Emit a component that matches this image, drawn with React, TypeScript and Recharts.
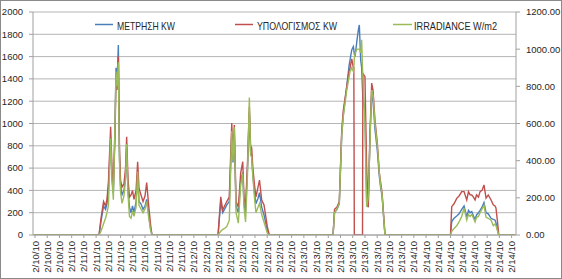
import React from 'react';
import { LineChart, Line, XAxis, YAxis, CartesianGrid, Legend } from 'recharts';

// Category labels shown under the axis (one every 2.5 h)
const tickLabels = [
  '2/10/10', '2/10/10', '2/10/10',
  '2/11/10', '2/11/10', '2/11/10', '2/11/10', '2/11/10', '2/11/10', '2/11/10', '2/11/10', '2/11/10', '2/11/10',
  '2/12/10', '2/12/10', '2/12/10', '2/12/10', '2/12/10', '2/12/10', '2/12/10', '2/12/10', '2/12/10',
  '2/13/10', '2/13/10', '2/13/10', '2/13/10', '2/13/10', '2/13/10', '2/13/10', '2/13/10', '2/13/10',
  '2/14/10', '2/14/10', '2/14/10', '2/14/10', '2/14/10', '2/14/10', '2/14/10', '2/14/10', '2/14/10',
];

const seriesKeys = ['meas', 'calc', 'irr'];
const seriesNames = ['ΜΕΤΡΗΣΗ KW', 'ΥΠΟΛΟΓΙΣΜΟΣ KW', 'IRRADIANCE W/m2'];

// time position, in label slots
const slot = [
  -0.08,
  5.24, 5.40, 5.61, 5.77, 5.89, 6.01, 6.19, 6.30, 6.41, 6.55, 6.63, 6.71, 6.82, 6.91, 7.00, 7.12, 7.28, 7.41, 7.50,
  7.61, 7.73, 7.86, 7.98, 8.10, 8.27, 8.40, 8.51, 8.67, 8.84, 9.00, 9.14, 9.29, 9.45, 9.57,
  14.98, 15.20, 15.36, 15.51, 15.69, 15.90, 16.10, 16.20, 16.31, 16.45, 16.64, 16.83, 17.00, 17.10, 17.23, 17.39,
  17.54, 17.64, 17.73, 17.82, 17.96, 18.08, 18.25, 18.37, 18.55, 18.74, 19.01, 19.17,
  24.39, 24.51, 24.71, 24.90, 25.10, 25.23, 25.51, 25.70, 25.78, 25.92, 26.05, 26.09, 26.13, 26.19, 26.35, 26.46,
  26.54, 26.65, 26.73, 26.80, 26.83, 27.00, 27.14, 27.27, 27.41, 27.55, 27.66, 27.82, 28.01, 28.18, 28.29, 28.40,
  28.50, 28.64,
  34.00, 34.10, 34.29, 34.51, 34.70, 34.92, 35.11, 35.33, 35.47, 35.60, 35.74, 35.88, 36.01, 36.13, 36.29, 36.42,
  36.58, 36.74, 36.91, 37.09, 37.32, 37.50, 37.64, 37.72, 37.86, 37.95,
  39.28,
];

// ΜΕΤΡΗΣΗ KW (measured)
const measKW = [
  0,
  0, 120, 260, 230, 280, 420, 870, 500, 380, 1000, 1500, 1350, 1704, 700, 440, 360, 400, 520, 780,
  400, 250, 200, 260, 200, 300, 560, 300, 280, 230, 260, 320, 200, 60, 0,
  0, 300, 200, 230, 270, 300, 900, 650, 900, 260, 200, 480, 560, 280, 200, 600,
  1100, 750, 700, 550, 380, 280, 330, 380, 250, 180, 40, 0,
  0, 200, 230, 280, 900, 1080, 1330, 1520, 1570, 1660, 1690, 1660, 1620, 1600, 1750, 1839,
  1884, 1570, 1500, 1300, 1250, 1100, 300, 250, 900, 1250, 1200, 950, 760, 520, 420, 350,
  200, 0,
  0, 120, 150, 170, 190, 230, 260, 160, 220, 200, 210, 170, 140, 180, 200, 220,
  250, 290, 200, 190, 150, 140, 135, 110, 40, 0,
  0,
];

// ΥΠΟΛΟΓΙΣΜΟΣ KW (calculated)
const calcKW = [
  0,
  0, 150, 300, 260, 320, 478, 971, 600, 430, 900, 1450, 1300, 1600, 800, 490, 430, 460, 600, 880,
  500, 340, 360, 400, 320, 400, 657, 420, 360, 300, 350, 470, 280, 100, 0,
  0, 343, 224, 260, 300, 340, 1005, 700, 987, 300, 250, 556, 657, 343, 250, 650,
  1150, 800, 780, 612, 450, 343, 430, 493, 314, 270, 75, 0,
  0, 230, 250, 300, 942, 1121, 1330, 1470, 1500, 1580, 1500, 1500, 0, 0, 0, 0,
  0, 0, 0, 0, 1450, 1420, 600, 250, 900, 1363, 1300, 1030, 825, 556, 466, 380,
  224, 0,
  0, 254, 280, 329, 350, 389, 389, 314, 389, 360, 359, 340, 314, 359, 340, 389,
  400, 449, 330, 359, 314, 270, 260, 243, 105, 0,
  0,
];

// IRRADIANCE W/m2 (right axis)
const irradiance = [
  0,
  0, 20, 60, 90, 120, 160, 520, 300, 190, 600, 880, 800, 930, 400, 230, 170, 210, 300, 490,
  220, 100, 90, 130, 100, 150, 340, 160, 140, 120, 140, 180, 100, 30, 0,
  0, 20, 30, 35, 45, 80, 560, 400, 580, 120, 64, 270, 330, 150, 70, 330,
  740, 430, 420, 320, 200, 120, 150, 170, 110, 70, 10, 0,
  0, 120, 140, 170, 540, 640, 780, 850, 880, 900, 880, 900, 950, 980, 1000, 1000,
  1000, 980, 1050, 900, 850, 600, 152, 200, 500, 780, 750, 600, 480, 330, 260, 220,
  120, 0,
  0, 20, 35, 50, 70, 100, 145, 80, 110, 100, 110, 90, 70, 95, 100, 120,
  140, 160, 95, 90, 80, 50, 60, 50, 20, 0,
  0,
];

const leftTicks = [0, 200, 400, 600, 800, 1000, 1200, 1400, 1600, 1800, 2000];
const rightTicks = [0, 200, 400, 600, 800, 1000, 1200];
const tickSlots = tickLabels.map((_, i) => i);

const data = slot.map((s, i) => ({
  slot: s,
  meas: measKW[i],
  calc: calcKW[i],
  irr: irradiance[i],
}));

const FONT = '"Liberation Sans", Arial, sans-serif';
const TEXT = '#262626';
const COLORS = ['#4A7EBB', '#C0504D', '#9BBB59'];

const legendLayout = [
  { x1: 95, x2: 113, tx: 117, tw: 58 },
  { x1: 235, x2: 253, tx: 257, tw: 80 },
  { x1: 393, x2: 412, tx: 414, tw: 83 },
];

function LegendContent(props: any) {
  const payload = props.payload || [];
  return (
    <svg width={562} height={40} style={{ display: 'block' }}>
      {payload.map((p: any, j: number) => {
        const i = seriesKeys.indexOf(String(p.dataKey));
        const L = legendLayout[i];
        if (!L) return null;
        return (
          <g key={j}>
            <line x1={L.x1} x2={L.x2} y1={24.5} y2={24.5} stroke={COLORS[i]} strokeWidth={1.5} />
            <text
              x={L.tx}
              y={25.5}
              dominantBaseline="central"
              fontSize={10.5}
              fontFamily={FONT}
              fill={TEXT}
              textLength={L.tw}
              lengthAdjust="spacingAndGlyphs"
            >
              {seriesNames[i]}
            </text>
          </g>
        );
      })}
    </svg>
  );
}

function XTick(props: any) {
  const { x, y, payload } = props;
  const label = tickLabels[Math.round(payload.value)] ?? '';
  return (
    <text
      x={x}
      y={y}
      transform={`rotate(-90 ${x} ${y})`}
      textAnchor="end"
      dominantBaseline="central"
      fontSize={9.5}
      fontFamily={FONT}
      fill={TEXT}
    >
      {label}
    </text>
  );
}

export default function App() {
  return (
    <div style={{ position: 'absolute', left: 0, top: 0, width: 562, height: 279, background: '#fff' }}>
      <LineChart width={562} height={279} data={data} margin={{ top: 12, right: 0, bottom: 0, left: 0 }}>
        <CartesianGrid yAxisId="left" vertical={false} stroke="#b5b5b5" />
        <XAxis
          dataKey="slot"
          type="number"
          domain={[-0.164, 39.36]}
          ticks={tickSlots}
          interval={0}
          allowDataOverflow
          height={44}
          tickSize={3}
          tickMargin={3}
          tick={<XTick />}
          stroke="#a0a0a0"
        />
        <YAxis
          yAxisId="left"
          domain={[0, 2000]}
          ticks={leftTicks}
          interval={0}
          width={33}
          tickSize={4}
          tickMargin={6}
          stroke="#a0a0a0"
          tick={{ fontSize: 9.5, fill: TEXT, fontFamily: FONT }}
          allowDataOverflow
        />
        <YAxis
          yAxisId="right"
          orientation="right"
          domain={[0, 1200]}
          ticks={rightTicks}
          interval={0}
          width={46}
          tickSize={4}
          tickMargin={6}
          stroke="#a0a0a0"
          tickFormatter={(v: number) => v.toFixed(2)}
          tick={{ fontSize: 9.5, fill: TEXT, fontFamily: FONT }}
          allowDataOverflow
        />
        <Legend
          verticalAlign="middle"
          layout="horizontal"
          align="center"
          content={<LegendContent />}
          wrapperStyle={{ position: 'absolute', top: 0, left: 0, width: 562, height: 40, pointerEvents: 'none' }}
        />
        <Line yAxisId="left" type="linear" dataKey="meas" name={seriesNames[0]} stroke={COLORS[0]} strokeWidth={1.4} dot={false} isAnimationActive={false} />
        <Line yAxisId="left" type="linear" dataKey="calc" name={seriesNames[1]} stroke={COLORS[1]} strokeWidth={1.4} dot={false} isAnimationActive={false} />
        <Line yAxisId="right" type="linear" dataKey="irr" name={seriesNames[2]} stroke={COLORS[2]} strokeWidth={1.4} dot={false} isAnimationActive={false} />
      </LineChart>
      <div style={{ position: 'absolute', left: 0, top: 0, width: 562, height: 279, boxSizing: 'border-box', border: '1px solid #8a8a8a', pointerEvents: 'none' }} />
    </div>
  );
}
